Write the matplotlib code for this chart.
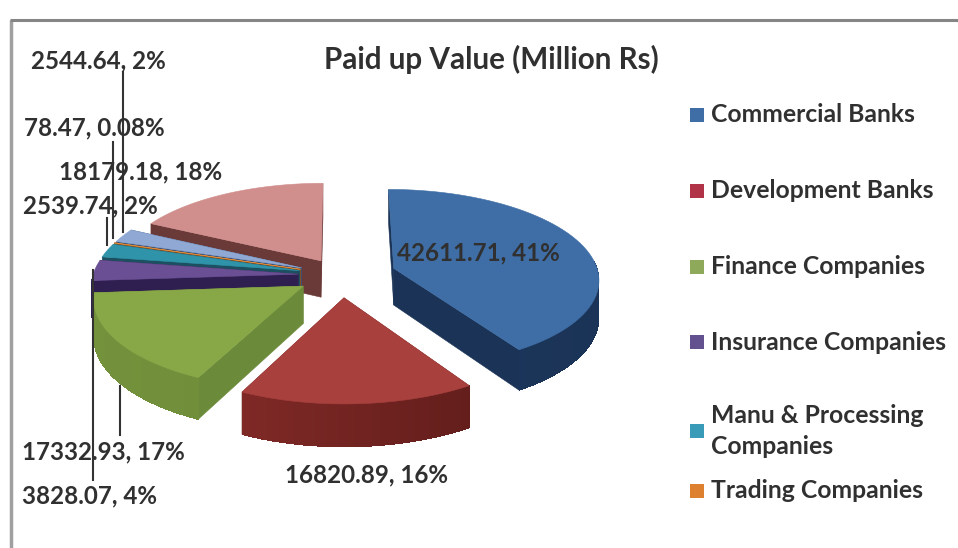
import numpy as np
import matplotlib
matplotlib.use("Agg")
import matplotlib.pyplot as plt
from matplotlib.colors import to_rgb
from matplotlib.patches import Polygon, Rectangle

title = "Paid up Value (Million Rs)"
legend_names = ["Commercial Banks", "Development Banks", "Finance Companies",
                "Insurance Companies", "Manu & Processing\nCompanies", "Trading Companies"]
values = [42611.71, 16820.89, 17332.93, 3828.07, 2539.74, 78.47, 2544.64, 18179.18]
percents = ["41%", "16%", "17%", "4%", "2%", "0.08%", "2%", "18%"]
explode = [0.27, 0.25, 0.22, 0.21, 0.21, 0.21, 0.21, 0.19]
top_colors = ["#3f6ea6", "#a8403d", "#88a848", "#6b4f94", "#2f93aa", "#d98a3c", "#8fa9d4", "#d08e8c"]
rim_left = ["#1f3d66", "#8e2f2c", "#74923c", "#2e1f50", "#1c5a6c", "#8a5020", "#3f5a85", "#6e3c3a"]
rim_right = ["#1a3356", "#571917", "#6a8838", "#2e1f50", "#1c5a6c", "#8a5020", "#3f5a85", "#5f3230"]
cut_colors = ["#1a3356", "#6e2422", "#6b8a3a", "#2e1f50", "#1c4f60", "#8a5020", "#3a4f75", "#6a3a38"]
legend_colors = ["#3f6ea6", "#b03348", "#8fa95a", "#63508f", "#3a9bb8", "#dd8030"]

label_pos = [(478, 253), (367, 475), (103, 452), (90, 496), (90, 206), (94, 128), (98, 61), (141, 172)]
leaders = [(123, 72, 232), (113, 142, 238), (107, 218, 245), (93, 270, 480), (120, 386, 435)]
legend_y = [115, 191, 267, 342, 431, 491]

W, H = 958, 548
CX, CY, R, RK, P, DEPTH = 341, 275, 205, 89, 0.11, 37
fig = plt.figure(figsize=(W / 100, H / 100), dpi=100, facecolor="white")
ax = fig.add_axes([0, 0, 1, 1])
plt.rcParams["font.family"] = ["Lato", "DejaVu Sans"]

wedges, _ = ax.pie(values, explode=explode, startangle=90, counterclock=False, radius=1)
geom = [(np.radians(w.theta1), np.radians(w.theta2), w.center) for w in wedges]
for w in wedges:
    w.remove()
ax.set_aspect("auto")
ax.set_xlim(0, W)
ax.set_ylim(H, 0)
ax.axis("off")


def project(u, v, drop=0.0):
    f = 1 / (1 + P * v)
    return np.column_stack([CX + R * u * f, CY - RK * v * f + drop * DEPTH * f])


def mix(a, b, t):
    a, b = np.array(to_rgb(a)), np.array(to_rgb(b))
    return tuple(a + (b - a) * t)


def add(pts, color, z, lw=0.4):
    ax.add_patch(Polygon(pts, closed=True, facecolor=color, edgecolor=color, lw=lw, zorder=z))


order = sorted(range(len(values)), key=lambda i: -geom[i][2][1] - 0.3 * np.sin(geom[i][0] / 2 + geom[i][1] / 2))
for z, i in enumerate(order):
    t1, t2, (c0, c1) = geom[i]
    th = np.linspace(t1, t2, 60)
    u, v = c0 + np.cos(th), c1 + np.sin(th)
    base = z * 10 + 1
    # cut faces, rear one first
    faces = []
    for t in (t1, t2):
        uu = np.array([c0, c0 + np.cos(t)])
        vv = np.array([c1, c1 + np.sin(t)])
        faces.append((vv.mean(), np.vstack([project(uu, vv), project(uu[::-1], vv[::-1], 1)])))
    for _, pts in sorted(faces, key=lambda p: -p[0]):
        add(pts, cut_colors[i], base)
    # front-facing outer rim, overlapping strips so no seams show
    for k in range(len(th) - 1):
        if np.sin(th[k]) < 0.02:
            q = np.vstack([project(u[k:k + 3], v[k:k + 3]),
                           project(u[k:k + 3][::-1], v[k:k + 3][::-1], 1)])
            col = mix(rim_left[i], rim_right[i], 0.5 + 0.5 * np.cos(th[k]))
            ax.add_patch(Polygon(q, closed=True, facecolor=col, edgecolor="none", zorder=base + 1,
                                 antialiased=False))
    add(project(np.r_[c0, u], np.r_[c1, v]), top_colors[i], base + 2)

txt = "#303030"
ax.text(491, 59, title, ha="center", va="center", fontsize=21.3, fontweight="bold", color=txt, zorder=200)
for val, pct, (x, y) in zip(values, percents, label_pos):
    ax.text(x, y, f"{val:.2f}, {pct}", ha="center", va="center", fontsize=17.4,
            fontweight="bold", color=txt, zorder=200)
for x, y0, y1 in leaders:
    ax.plot([x, x], [y0, y1], color="#333333", lw=1.5, zorder=150)
for name, col, y in zip(legend_names, legend_colors, legend_y):
    ax.add_patch(Rectangle((690, y - 7), 14, 14, facecolor=col, edgecolor="none", zorder=200))
    ax.text(711, y, name, ha="left", va="center", fontsize=17.8, fontweight="bold", color=txt,
            linespacing=1.4, zorder=200)
ax.plot([11, 11], [20, H], color="#a0a0a0", lw=2.5, zorder=300, solid_capstyle="butt")
ax.plot([10, W], [20, 20], color="#858585", lw=2.2, zorder=300, solid_capstyle="butt")
fig.savefig("out.png", dpi=100)
